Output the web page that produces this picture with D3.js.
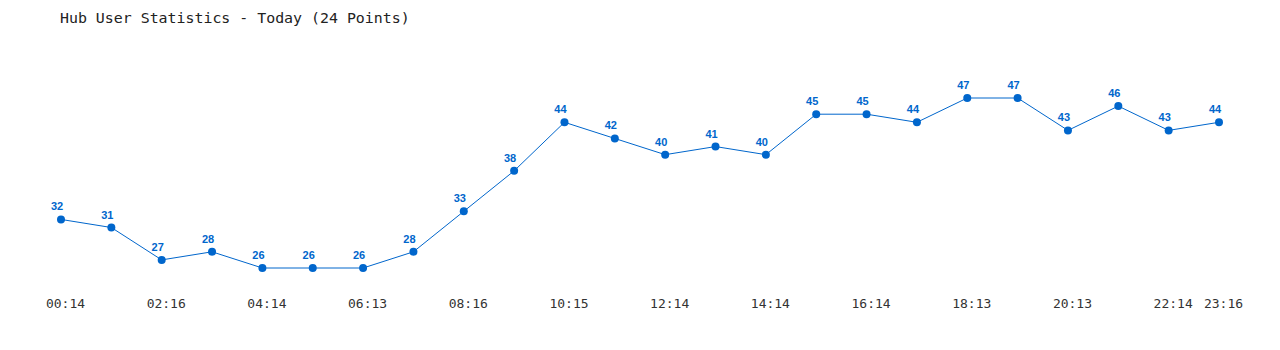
<!DOCTYPE html>
<html>
<head>
<meta charset="utf-8">
<script src="https://cdn.jsdelivr.net/npm/d3@7"></script>
<style>
  body { margin: 0; background: #fff; }
  #chart { width: 1280px; height: 350px; }
</style>
</head>
<body>
<div id="chart"></div>
<script>
const title = 'Hub User Statistics - Today (24 Points)';

// one value per point, left to right
const users = [32, 31, 27, 28, 26, 26, 26, 28, 33, 38, 44, 42,
  40, 41, 40, 45, 45, 44, 47, 47, 43, 46, 43, 44];

// tick labels, keyed by point index
const tickIndex = [0, 2, 4, 6, 8, 10, 12, 14, 16, 18, 20, 22, 23];
const tickLabels = ['00:14', '02:16', '04:14', '06:13', '08:16', '10:15',
  '12:14', '14:14', '16:14', '18:13', '20:13', '22:14', '23:16'];

const lineColor = '#0066cc';
const width = 1280;
const height = 350;
const margin = { top: 98, right: 61, bottom: 82, left: 61 };

const svg = d3.select('#chart')
  .append('svg')
  .attr('width', width)
  .attr('height', height);

svg.append('text')
  .attr('x', 60)
  .attr('y', 23)
  .style('font-family', 'DejaVu Sans Mono, monospace')
  .style('font-size', '14.9px')
  .attr('fill', '#222')
  .text(title);

const x = d3.scaleLinear()
  .domain([0, users.length - 1])
  .range([margin.left, width - margin.right]);

const y = d3.scaleLinear()
  .domain(d3.extent(users))
  .range([height - margin.bottom, margin.top]);

const xAxis = d3.axisBottom(x)
  .tickValues(tickIndex)
  .tickFormat((d) => tickLabels[tickIndex.indexOf(d)])
  .tickSize(0)
  .tickPadding(0);

svg.append('g')
  .attr('transform', 'translate(4, 308)')
  .call(xAxis)
  .call((g) => g.select('.domain').remove())
  .call((g) => g.selectAll('.tick text')
    .attr('dy', 0)
    .attr('fill', '#333')
    .style('font-family', 'DejaVu Sans Mono, monospace')
    .style('font-size', '13px'));

const line = d3.line()
  .x((d, i) => x(i))
  .y((d) => y(d));

svg.append('path')
  .datum(users)
  .attr('fill', 'none')
  .attr('stroke', lineColor)
  .attr('stroke-width', 1)
  .attr('d', line);

svg.append('g')
  .selectAll('circle')
  .data(users)
  .join('circle')
  .attr('cx', (d, i) => x(i))
  .attr('cy', (d) => y(d))
  .attr('r', 4)
  .attr('fill', lineColor);

svg.append('g')
  .selectAll('text')
  .data(users)
  .join('text')
  .attr('x', (d, i) => x(i) - 4)
  .attr('y', (d) => y(d) - 9)
  .attr('text-anchor', 'middle')
  .attr('fill', lineColor)
  .style('font-family', 'Liberation Sans, Arial, sans-serif')
  .style('font-weight', 'bold')
  .style('font-size', '11px')
  .text((d) => d);
</script>
</body>
</html>
